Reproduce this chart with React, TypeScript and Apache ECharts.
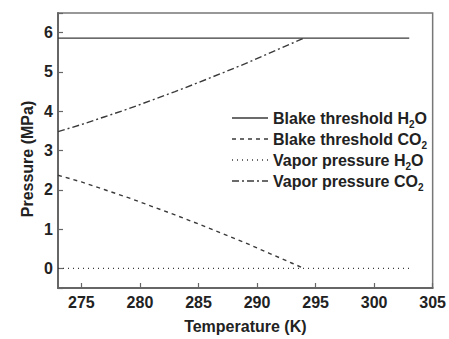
import React, { useEffect, useRef } from "react";
import * as echarts from "echarts";

const blakeH2OTemps = [273, 303];
const blakeH2OValues = [5.86, 5.86];

const co2Temps = [273, 275, 277, 279, 281, 283, 285, 287, 289, 291, 293, 294];
const vaporCO2Values = [3.48, 3.66, 3.86, 4.06, 4.28, 4.5, 4.73, 4.97, 5.21, 5.47, 5.73, 5.86];
const blakeCO2Values = [2.37, 2.2, 2.0, 1.8, 1.58, 1.36, 1.13, 0.89, 0.65, 0.39, 0.13, 0.0];

const vaporH2OTemps = [273, 303];
const vaporH2OValues = [0, 0];

const legendRich = [
  ["Blake threshold H", "2", "O"],
  ["Blake threshold CO", "2", ""],
  ["Vapor pressure H", "2", "O"],
  ["Vapor pressure CO", "2", ""],
];

const FONT = "'Liberation Sans', Arial, sans-serif";
const COLOR = "#3a3a3a";

const lineTypes: any[] = ["solid", [4, 4], [1, 4], [7, 3, 2, 3]];

function zip(xs: number[], ys: number[]) {
  return xs.map((x, i) => [x, ys[i]]);
}

export default function App() {
  const ref = useRef<HTMLDivElement>(null);
  useEffect(() => {
    if (!ref.current) return;
    const chart = echarts.init(ref.current, undefined, { renderer: "svg" });
    const legendGraphics: any[] = [];
    const ly0 = 118;
    const dy = 21;
    legendRich.forEach((parts, i) => {
      const y = ly0 + i * dy;
      legendGraphics.push({
        type: "line",
        shape: { x1: 232, y1: y, x2: 268, y2: y },
        style: { stroke: COLOR, lineWidth: 1.3, lineDash: lineTypes[i] === "solid" ? null : lineTypes[i] },
      });
      legendGraphics.push({
        type: "text",
        x: 273,
        y: y,
        style: {
          text: `{a|${parts[0]}}{s|${parts[1]}}{a|${parts[2]}}`,
          verticalAlign: "middle",
          rich: {
            a: { fontSize: 16, fontWeight: "bold", fontFamily: FONT, fill: "#222", color: "#222" },
            s: { fontSize: 10, fontWeight: "bold", fontFamily: FONT, fill: "#222", color: "#222", padding: [12, 0, 0, 0] },
          },
        },
      });
    });
    legendGraphics.push({
      type: "text",
      x: 27,
      y: 159,
      rotation: Math.PI / 2,
      style: {
        text: "Pressure (MPa)",
        fontSize: 16,
        fontWeight: "bold",
        fontFamily: FONT,
        fill: "#222",
        align: "center",
        verticalAlign: "middle",
      },
    });

    const series = [
      { name: "Blake threshold H2O", data: zip(blakeH2OTemps, blakeH2OValues) },
      { name: "Blake threshold CO2", data: zip(co2Temps, blakeCO2Values) },
      { name: "Vapor pressure H2O", data: zip(vaporH2OTemps, vaporH2OValues) },
      { name: "Vapor pressure CO2", data: zip(co2Temps, vaporCO2Values) },
    ].map((s, i) => ({
      type: "line",
      name: s.name,
      data: s.data,
      symbol: "none",
      smooth: false,
      lineStyle: { color: COLOR, width: i === 2 ? 1.2 : 1.4, type: lineTypes[i] },
    }));

    chart.setOption({
      animation: false,
      backgroundColor: "#fff",
      grid: {
        left: 58,
        top: 13,
        right: 15,
        bottom: 50,
        show: true,
        borderColor: "#777",
        borderWidth: 1.5,
        containLabel: false,
      },
      xAxis: {
        type: "value",
        min: 273,
        max: 305,
        minInterval: 5,
        maxInterval: 5,
        name: "Temperature (K)",
        nameLocation: "middle",
        nameGap: 30,
        nameTextStyle: { fontSize: 16, fontWeight: "bold", fontFamily: FONT, color: "#222" },
        axisLine: { onZero: false, lineStyle: { color: "#666", width: 2 } },
        axisTick: { inside: true, length: 5, lineStyle: { color: "#666", width: 1.2 } },
        axisLabel: {
          showMinLabel: false,
          fontSize: 16,
          fontWeight: "bold",
          fontFamily: FONT,
          color: "#222",
          margin: 6,
          formatter: (v: number) => (v % 5 === 0 ? String(v) : ""),
        },
        splitLine: { show: false },
      },
      yAxis: {
        type: "value",
        min: -0.5,
        max: 6.5,
        minInterval: 1,
        maxInterval: 1,
        axisLine: { show: true, onZero: false, lineStyle: { color: "#666", width: 2 } },
        axisTick: { show: true, inside: true, length: 5, lineStyle: { color: "#666", width: 1.2 } },
        axisLabel: {
          fontSize: 16,
          fontWeight: "bold",
          fontFamily: FONT,
          color: "#222",
          margin: 5,
          formatter: (v: number) => (Number.isInteger(v) ? String(v) : ""),
        },
        splitLine: { show: false },
      },
      series,
      graphic: legendGraphics,
    });
    return () => chart.dispose();
  }, []);
  return (
    <div
      ref={ref}
      style={{ position: "fixed", left: 0, top: 0, width: 449, height: 339 }}
    />
  );
}
